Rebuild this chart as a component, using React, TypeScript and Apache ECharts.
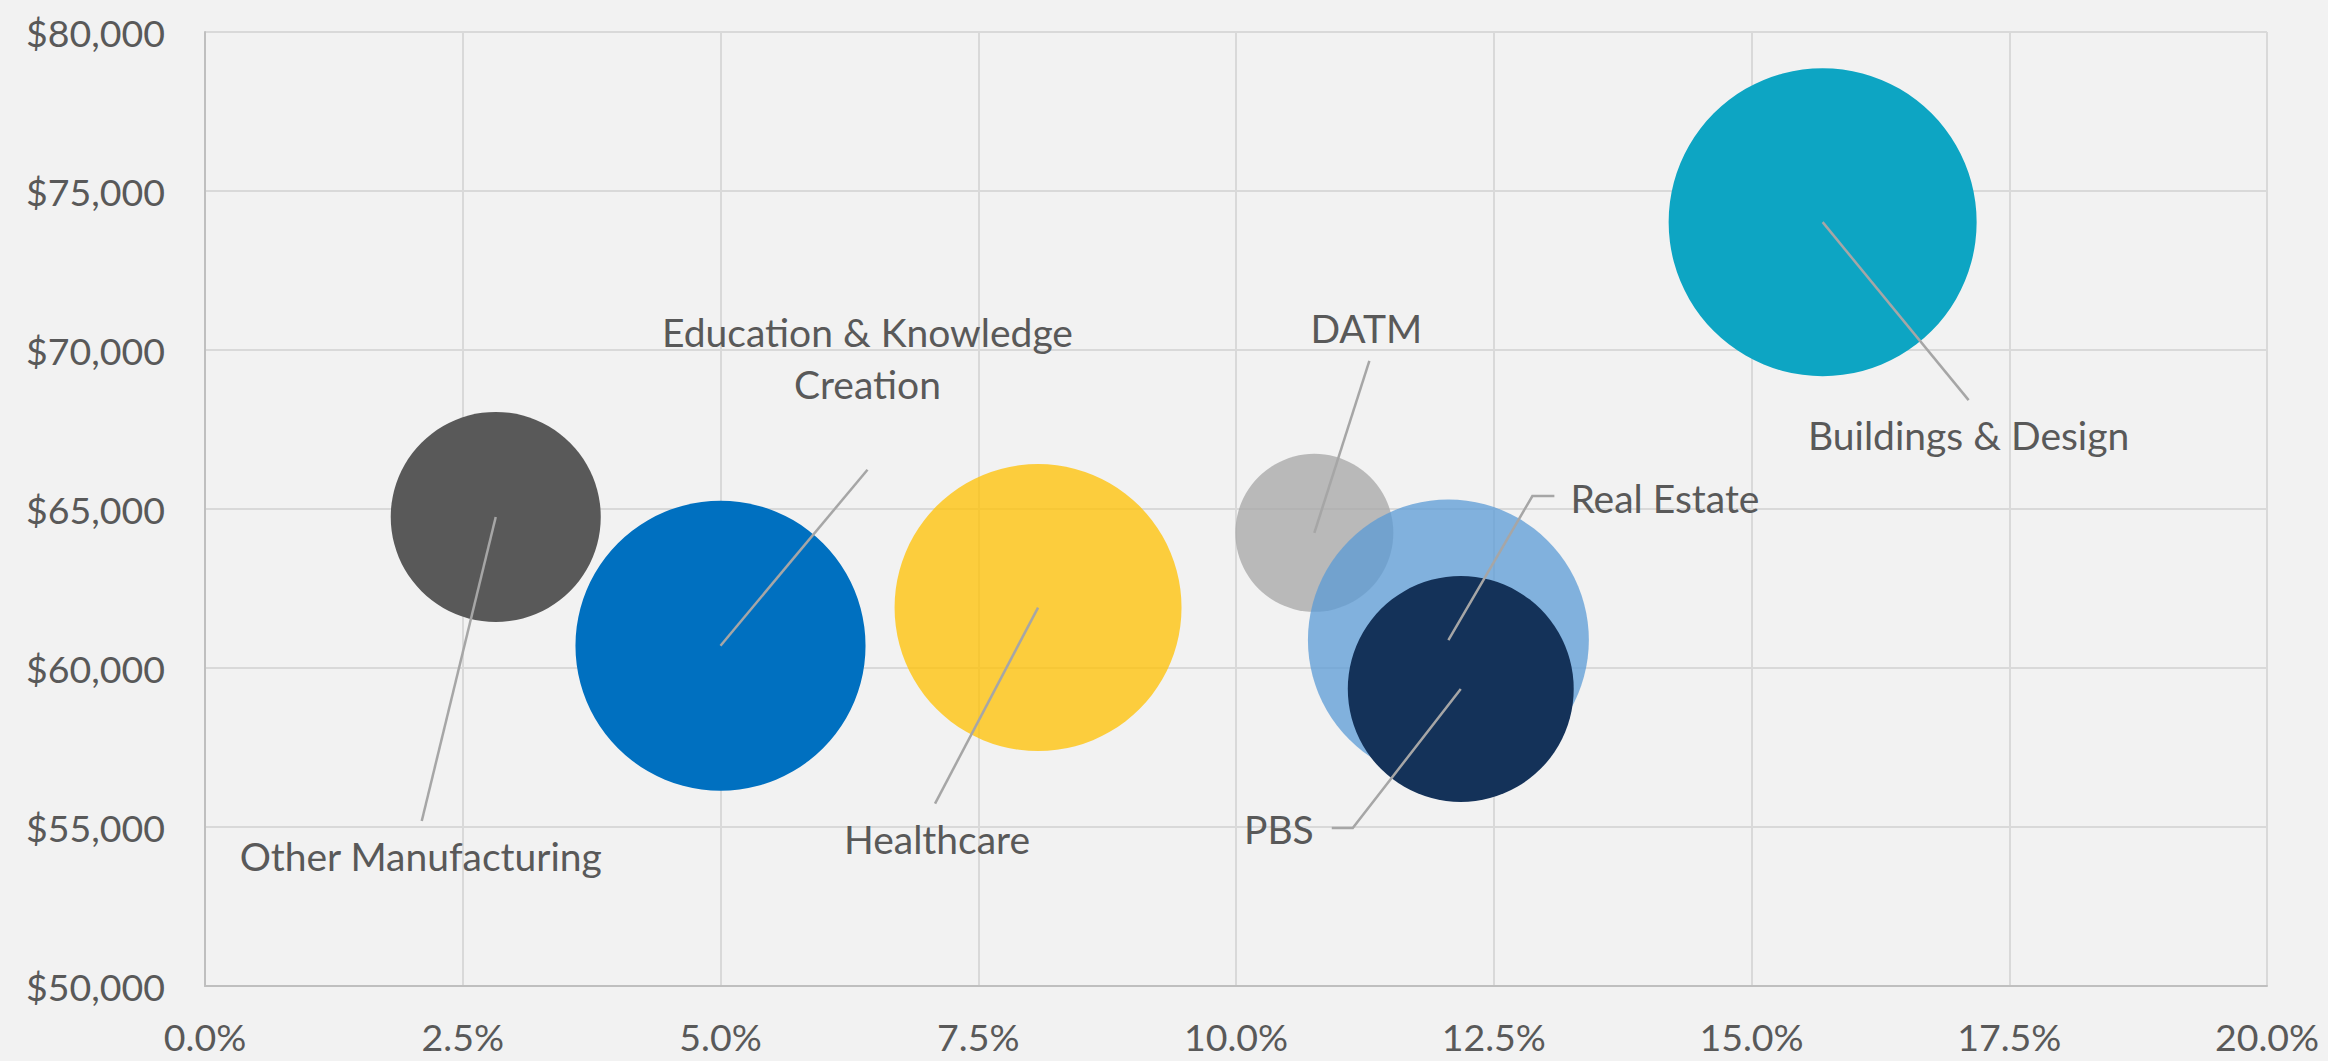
import React, { useEffect, useRef } from "react";
import * as echarts from "echarts";

// ---- Data ----
const CATEGORIES = [
  "Other Manufacturing",
  "Education & Knowledge Creation",
  "Healthcare",
  "DATM",
  "Real Estate",
  "PBS",
  "Buildings & Design",
];
const LABELS = [
  "Other Manufacturing",
  "Education & Knowledge\nCreation",
  "Healthcare",
  "DATM",
  "Real Estate",
  "PBS",
  "Buildings & Design",
];
// x: growth (%)
const GROWTH = [2.82, 5.0, 8.08, 10.76, 12.06, 12.18, 15.69];
// y: average wage ($)
const WAGES = [64750, 60700, 61900, 64250, 60880, 59340, 74020];
// bubble size (relative)
const SIZES = [4.65, 8.87, 8.68, 2.63, 8.32, 5.38, 10.0];

const X_MIN = 0, X_MAX = 20, X_INTERVAL = 2.5;
const Y_MIN = 50000, Y_MAX = 80000, Y_INTERVAL = 5000;

// ---- Styles ----
const COLORS = ["#595959", "#0070C0", "#FFC000", "#A5A5A5", "#5B9BD5", "#143259", "#0DA5C3"];
const OPACITY = [1, 1, 0.75, 0.75, 0.75, 1, 1];
const MAX_DIAMETER = 308;
const FONT = "Lato";
const TEXT_COLOR = "#595959";
const LABEL_SIZE = 39;
const AXIS_SIZE = 37.5;

// label layout: pixel offsets from the bubble centre
const LAYOUT = [
  { line: [[-74, 304]], text: [-75, 339], align: "center" },
  { line: [[147, -176]], text: [147, -288], align: "center" },
  { line: [[-103, 196]], text: [-101, 231], align: "center" },
  { line: [[55, -172]], text: [52, -205], align: "center" },
  { line: [[84, -144], [106, -144]], text: [122, -142], align: "left" },
  { line: [[-108, 139], [-129, 139]], text: [-147, 140], align: "right" },
  { line: [[146, 178]], text: [146, 213], align: "center" },
];

export default function App() {
  const ref = useRef<HTMLDivElement>(null);

  useEffect(() => {
    document.body.style.margin = "0";
    const chart = echarts.init(ref.current!, null, { renderer: "svg" });

    const data = CATEGORIES.map((name, i) => ({
      name,
      value: [GROWTH[i], WAGES[i], SIZES[i]],
      itemStyle: { color: COLORS[i], opacity: OPACITY[i] },
    }));

    chart.setOption({
      animation: false,
      backgroundColor: "#F2F2F2",
      grid: { left: 205, right: 61, top: 32, bottom: 75, containLabel: false },
      xAxis: {
        type: "value",
        min: X_MIN,
        max: X_MAX,
        interval: X_INTERVAL,
        axisLine: { show: true, lineStyle: { color: "#BFBFBF", width: 2 } },
        axisTick: { show: false },
        splitLine: { show: true, lineStyle: { color: "#D9D9D9", width: 2 } },
        axisLabel: {
          color: TEXT_COLOR,
          fontFamily: FONT,
          fontSize: AXIS_SIZE,
          lineHeight: 36,
          margin: 32,
          formatter: (v: number) => v.toFixed(1) + "%",
        },
      },
      yAxis: {
        type: "value",
        min: Y_MIN,
        max: Y_MAX,
        interval: Y_INTERVAL,
        axisLine: { show: true, lineStyle: { color: "#BFBFBF", width: 2 } },
        axisTick: { show: false },
        splitLine: { show: true, lineStyle: { color: "#D9D9D9", width: 2 } },
        axisLabel: {
          color: TEXT_COLOR,
          fontFamily: FONT,
          fontSize: AXIS_SIZE,
          margin: 40,
          formatter: (v: number) => "$" + v.toLocaleString("en-US"),
        },
      },
      series: [
        {
          type: "scatter",
          z: 2,
          data,
          symbol: "circle",
          symbolSize: (val: number[]) => MAX_DIAMETER * Math.sqrt(val[2] / Math.max(...SIZES)),
          emphasis: { disabled: true },
        },
        {
          type: "custom",
          z: 5,
          clip: false,
          silent: true,
          encode: { x: 0, y: 1 },
          data: CATEGORIES.map((_, i) => [GROWTH[i], WAGES[i]]),
          renderItem: (params: any, api: any) => {
            const i = params.dataIndex;
            const c = api.coord([api.value(0), api.value(1)]);
            const L = LAYOUT[i];
            const pts = [[c[0], c[1]], ...L.line.map(([dx, dy]) => [c[0] + dx, c[1] + dy])];
            return {
              type: "group",
              children: [
                {
                  type: "polyline",
                  shape: { points: pts },
                  style: { stroke: "#A6A6A6", lineWidth: 2.5, fill: null },
                },
                {
                  type: "text",
                  x: c[0] + L.text[0],
                  y: c[1] + L.text[1],
                  style: {
                    text: LABELS[i],
                    fill: TEXT_COLOR,
                    fontSize: LABEL_SIZE,
                    fontFamily: FONT,
                    align: L.align,
                    verticalAlign: "middle",
                    lineHeight: 52,
                  },
                },
              ],
            };
          },
        },
      ],
    });

    return () => chart.dispose();
  }, []);

  return <div ref={ref} style={{ width: 2328, height: 1061 }} />;
}
